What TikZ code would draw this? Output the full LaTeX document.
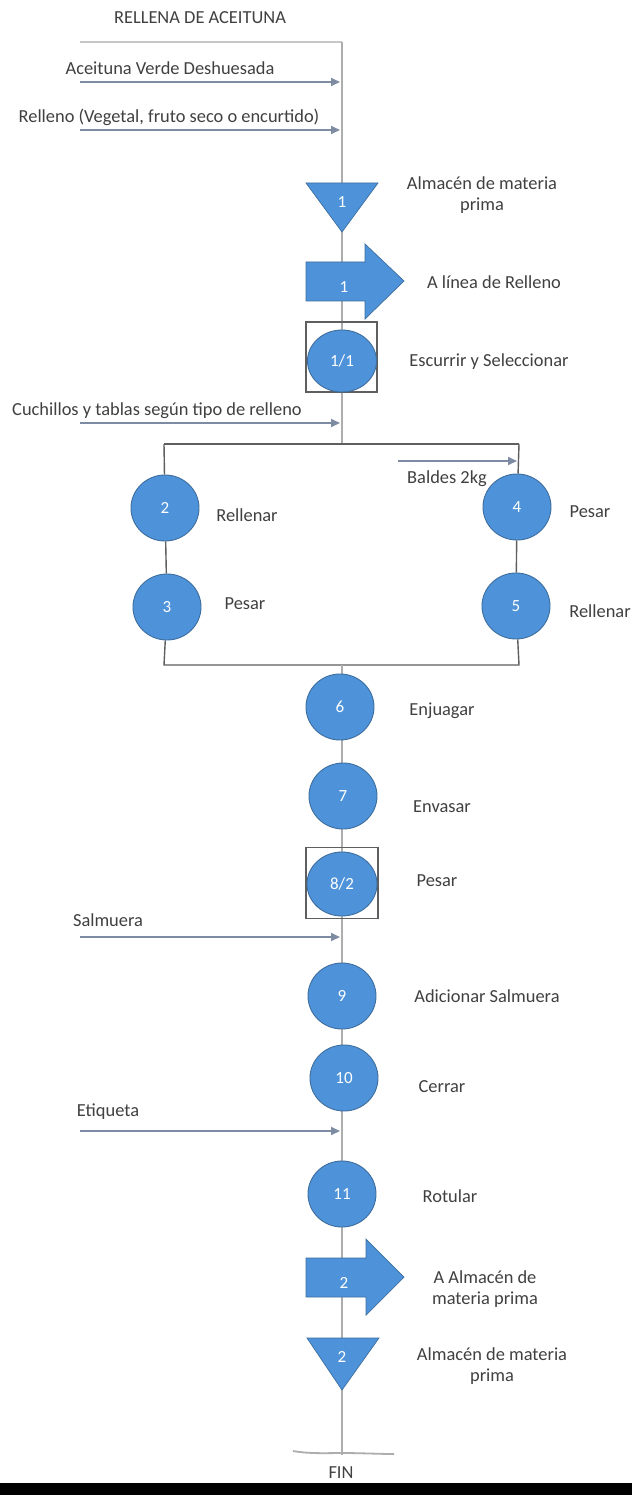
\documentclass[tikz,border=0pt]{standalone}
\usepackage{fontspec}
\setmainfont{Carlito}
\usetikzlibrary{shapes.geometric,arrows.meta,backgrounds}
\definecolor{opblue}{HTML}{4E93DA}
\definecolor{opedge}{HTML}{3D6E9E}
\definecolor{txt}{HTML}{404040}
\definecolor{flowgray}{HTML}{ADADAD}
\definecolor{feedgray}{HTML}{7D8CA3}
\definecolor{framegray}{HTML}{5F5F5F}
\begin{document}
\begin{tikzpicture}[x=1pt,y=-1pt,
  every node/.style={font=\fontsize{18.4}{21}\selectfont, text=txt, inner sep=0pt},
  lbl/.style={align=center},
  op/.style={ellipse, fill=opblue, draw=opedge, line width=0.9pt,
    minimum width=68pt, minimum height=66pt, text=white,
    font=\fontsize{17}{20}\selectfont},
  numlbl/.style={text=white, font=\fontsize{17}{20}\selectfont},
  blockfill/.style={fill=opblue, draw=opedge, line width=0.7pt},
  flow/.style={draw=flowgray, line width=1.4pt},
  feed/.style={draw=feedgray, line width=1.8pt,
    -{Triangle[length=9pt,width=8pt]}},
  frame/.style={draw=framegray, line width=1.4pt},
  inspbox/.style={draw=framegray, line width=1.2pt}
]
\useasboundingbox (0,0) rectangle (632,1495);

% title and header line
\node (title) at (200,18) {RELLENA DE ACEITUNA};
\coordinate (hl) at (80,42);
\coordinate (top) at (342,42);

% raw material inputs
\node (inA) at (170,68) {Aceituna Verde Deshuesada};
\coordinate (inAs) at (80,82);  \coordinate (inAe) at (340,82);
\node (inB) at (169,117) {Relleno (Vegetal, fruto seco o encurtido)};
\coordinate (inBs) at (80,130); \coordinate (inBe) at (340,130);

% storage 1
\fill[blockfill] (306,183) -- (378,183) -- (342,232) -- cycle;
\node[numlbl] (tri1) at (342,202) {1};
\node[lbl] (tri1t) at (482,195) {Almacén de materia\\prima};

% transport 1
\fill[blockfill] (306,262) -- (365,262) -- (365,244) -- (404,281) -- (365,319)
  -- (365,301) -- (306,301) -- cycle;
\node[numlbl] (arr1) at (344,287) {1};
\node (arr1t) at (494,282) {A línea de Relleno};

% combined operation 1/1
\node[inspbox, minimum width=71pt, minimum height=70pt] (box1) at (341.5,357) {};
\node[op, minimum width=69pt, minimum height=62pt] (op1) at (342,361) {1/1};
\node (op1t) at (489,362) {Escurrir y Seleccionar};

% tools input
\node (inC) at (157,411) {Cuchillos y tablas según tipo de relleno};
\coordinate (inCs) at (80,423); \coordinate (inCe) at (340,423);

% parallel filling lines
\coordinate (rtop) at (342,444);
\coordinate (rbot) at (342,665);
\coordinate (rtl) at (164,444); \coordinate (rtr) at (519,444);
\coordinate (rbl) at (164,665); \coordinate (rbr) at (519,665);

\node[op] (op2) at (165,508) {2};
\node (op2t) at (247,515) {Rellenar};
\node[op] (op3) at (167,607) {3};
\node (op3t) at (245,604) {Pesar};
\node[op] (op4) at (517,507) {4};
\node (op4t) at (590,512) {Pesar};
\node[op] (op5) at (516,606) {5};
\node (op5t) at (600,611) {Rellenar};

\coordinate (inDs) at (398,461); \coordinate (inDe) at (517,461);
\node (inD) at (447,479) {Baldes 2kg};

% main line, continued
\node[op] (op6) at (340,707) {6};
\node (op6t) at (442,711) {Enjuagar};
\node[op] (op7) at (343,796) {7};
\node (op7t) at (442,807) {Envasar};
\node[inspbox, minimum width=72pt, minimum height=71pt] (box8) at (342,883) {};
\node[op, minimum width=70pt, minimum height=64pt] (op8) at (342,884) {8/2};
\node (op8t) at (437,881) {Pesar};

\node (inE) at (108,920) {Salmuera};
\coordinate (inEs) at (80,937); \coordinate (inEe) at (340,937);

\node[op] (op9) at (342,996) {9};
\node (op9t) at (487,996) {Adicionar Salmuera};
\node[op] (op10) at (344,1078) {10};
\node (op10t) at (442,1087) {Cerrar};

\node (inF) at (108,1112) {Etiqueta};
\coordinate (inFs) at (80,1131); \coordinate (inFe) at (340,1131);

\node[op] (op11) at (342,1194) {11};
\node (op11t) at (450,1196) {Rotular};

% transport 2
\fill[blockfill] (306,1258) -- (366,1258) -- (366,1239) -- (404,1277) -- (366,1315)
  -- (366,1297) -- (306,1297) -- cycle;
\node[numlbl] (arr2) at (344,1283) {2};
\node[lbl] (arr2t) at (485,1289) {A Almacén de\\materia prima};

% storage 2
\fill[blockfill] (307,1338) -- (379,1338) -- (342,1390) -- cycle;
\node[numlbl] (tri2) at (342,1357) {2};
\node[lbl] (tri2t) at (492,1366) {Almacén de materia\\prima};

% end
\coordinate (fin) at (342,1455);
\coordinate (finl) at (293,1451);
\coordinate (finr) at (394,1454);
\node (fint) at (341,1473) {FIN};
\fill[black] (0,1483) rectangle (632,1495);

\begin{pgfonlayer}{background}
  \fill[white] (0,0) rectangle (632,1495);
  \draw[draw=flowgray!70, line width=2.6pt] (hl) -- (top);
  \draw[flow] (top) -- (rtop);
  % frame around the two parallel lines
  \draw[frame] (rtl) -- (rtr);
  \draw[frame] (rtr) -- (op4);
  \draw[frame] (op4) -- (op5);
  \draw[frame] (op5) -- (rbr) -- (rbl) -- (op3);
  \draw[frame] (op3) -- (op2);
  \draw[frame] (op2) -- (rtl);
  \draw[flow] (rbot) -- (fin);
  \draw[flow, line width=1.8pt] (finl) .. controls (310,1454) and (328,1453) .. (342,1453)
     .. controls (360,1453) and (380,1454) .. (finr);
\end{pgfonlayer}

% material feeds
\draw[feed] (inAs) -- (inAe);
\draw[feed] (inBs) -- (inBe);
\draw[feed] (inCs) -- (inCe);
\draw[feed] (inDs) -- (inDe);
\draw[feed] (inEs) -- (inEe);
\draw[feed] (inFs) -- (inFe);
\end{tikzpicture}
\end{document}
